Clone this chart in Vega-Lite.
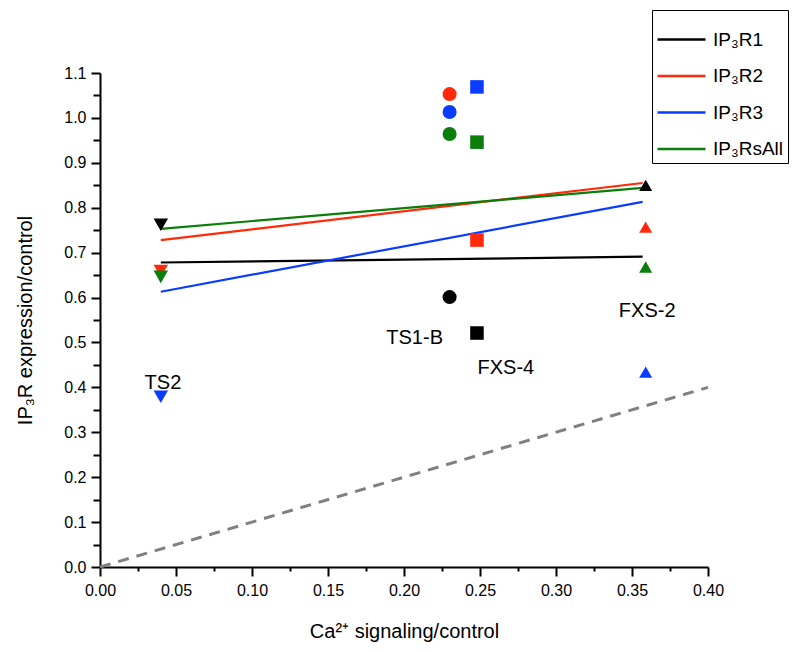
{
  "$schema": "https://vega.github.io/schema/vega-lite/v6.json",
  "autosize": "none",
  "width": 608,
  "height": 494,
  "padding": {"left": 100, "top": 73, "right": 93, "bottom": 85},
  "background": "white",
  "config": {
    "view": {"stroke": null},
    "font": "Liberation Sans",
    "axis": {"grid": false, "domainColor": "black", "tickColor": "black", "domainWidth": 2, "tickWidth": 2, "labelColor": "black", "titleColor": "black", "labelFont": "Liberation Sans", "titleFont": "Liberation Sans", "labelFontSize": 16, "titleFontSize": 20, "titleFontWeight": "normal", "labelFlush": false}
  },
  "datasets": {
    "lines": [
      {"series": "IP₃R1", "x": 0.04, "y": 0.678},
      {"series": "IP₃R1", "x": 0.357, "y": 0.691},
      {"series": "IP₃R2", "x": 0.04, "y": 0.728},
      {"series": "IP₃R2", "x": 0.357, "y": 0.855},
      {"series": "IP₃R3", "x": 0.04, "y": 0.613},
      {"series": "IP₃R3", "x": 0.357, "y": 0.813},
      {"series": "IP₃RsAll", "x": 0.04, "y": 0.753},
      {"series": "IP₃RsAll", "x": 0.357, "y": 0.844}
    ],
    "points": [
      {"series": "IP₃R1", "cell": "TS2", "x": 0.04, "y": 0.762},
      {"series": "IP₃R2", "cell": "TS2", "x": 0.04, "y": 0.659},
      {"series": "IP₃R3", "cell": "TS2", "x": 0.04, "y": 0.379},
      {"series": "IP₃RsAll", "cell": "TS2", "x": 0.04, "y": 0.646},
      {"series": "IP₃R1", "cell": "TS1-B", "x": 0.23, "y": 0.601},
      {"series": "IP₃R2", "cell": "TS1-B", "x": 0.23, "y": 1.053},
      {"series": "IP₃R3", "cell": "TS1-B", "x": 0.23, "y": 1.013},
      {"series": "IP₃RsAll", "cell": "TS1-B", "x": 0.23, "y": 0.964},
      {"series": "IP₃R1", "cell": "FXS-4", "x": 0.248, "y": 0.521},
      {"series": "IP₃R2", "cell": "FXS-4", "x": 0.248, "y": 0.728},
      {"series": "IP₃R3", "cell": "FXS-4", "x": 0.248, "y": 1.069},
      {"series": "IP₃RsAll", "cell": "FXS-4", "x": 0.248, "y": 0.946},
      {"series": "IP₃R1", "cell": "FXS-2", "x": 0.359, "y": 0.85},
      {"series": "IP₃R2", "cell": "FXS-2", "x": 0.359, "y": 0.757},
      {"series": "IP₃R3", "cell": "FXS-2", "x": 0.359, "y": 0.434},
      {"series": "IP₃RsAll", "cell": "FXS-2", "x": 0.359, "y": 0.668}
    ],
    "labels": [
      {"label": "TS2", "x": 0.0414, "y": 0.41},
      {"label": "TS1-B", "x": 0.207, "y": 0.51},
      {"label": "FXS-4", "x": 0.267, "y": 0.443},
      {"label": "FXS-2", "x": 0.36, "y": 0.57}
    ],
    "diag": [
      {"x": 0, "y": 0},
      {"x": 0.4, "y": 0.4}
    ]
  },
  "resolve": {"axis": {"x": "independent", "y": "independent"}},
  "layer": [
    {
      "data": {"name": "diag"},
      "mark": {"type": "line", "color": "#808080", "strokeWidth": 3, "strokeDash": [11, 8]},
      "encoding": {
        "x": {"field": "x", "type": "quantitative", "scale": {"domain": [0, 0.4], "nice": false},
          "axis": {"orient": "bottom", "values": [0.025, 0.075, 0.125, 0.175, 0.225, 0.275, 0.325, 0.375], "labels": false, "domain": false, "tickSize": 4, "title": null}},
        "y": {"field": "y", "type": "quantitative", "scale": {"domain": [0, 1.1], "nice": false},
          "axis": {"orient": "left", "values": [0.05, 0.15, 0.25, 0.35, 0.45, 0.55, 0.65, 0.75, 0.85, 0.95, 1.05], "labels": false, "domain": false, "tickSize": 7, "title": null}}
      }
    },
    {
      "data": {"name": "lines"},
      "mark": {"type": "line", "strokeWidth": 2.2},
      "encoding": {
        "x": {"field": "x", "type": "quantitative",
          "axis": {"orient": "bottom", "values": [0, 0.05, 0.1, 0.15, 0.2, 0.25, 0.3, 0.35, 0.4], "format": ".2f", "tickSize": 9, "labelPadding": 6, "title": "Ca²⁺ signaling/control", "titlePadding": 23}},
        "y": {"field": "y", "type": "quantitative",
          "axis": {"orient": "left", "values": [0, 0.1, 0.2, 0.3, 0.4, 0.5, 0.6, 0.7, 0.8, 0.9, 1.0, 1.1], "format": ".1f", "tickSize": 9, "labelPadding": 5, "title": "IP₃R expression/control", "titlePadding": 28}},
        "color": {"field": "series", "type": "nominal",
          "scale": {"domain": ["IP₃R1", "IP₃R2", "IP₃R3", "IP₃RsAll"], "range": ["#000000", "#ff2a0a", "#0a3cff", "#0a7d0a"]},
          "legend": {"title": null, "orient": "none", "legendX": 552, "legendY": -63, "symbolType": "stroke", "symbolSize": 2304, "symbolStrokeWidth": 2.5, "labelFontSize": 19, "labelFont": "Liberation Sans", "labelColor": "black", "strokeColor": "black", "padding": 4, "rowPadding": 0.5, "labelOffset": 6}}
      }
    },
    {
      "data": {"name": "points"},
      "mark": {"type": "point", "filled": true, "opacity": 1},
      "encoding": {
        "x": {"field": "x", "type": "quantitative", "axis": null},
        "y": {"field": "y", "type": "quantitative", "axis": null},
        "color": {"field": "series", "type": "nominal", "legend": null},
        "shape": {"field": "cell", "type": "nominal", "scale": {"domain": ["TS2", "TS1-B", "FXS-4", "FXS-2"], "range": ["triangle-down", "circle", "square", "triangle-up"]}, "legend": null},
        "size": {"field": "cell", "type": "nominal", "scale": {"domain": ["TS2", "TS1-B", "FXS-4", "FXS-2"], "range": [210, 170, 100, 210]}, "legend": null}
      }
    },
    {
      "data": {"name": "labels"},
      "mark": {"type": "text", "fontSize": 20, "font": "Liberation Sans", "color": "black"},
      "encoding": {
        "x": {"field": "x", "type": "quantitative", "axis": null},
        "y": {"field": "y", "type": "quantitative", "axis": null},
        "text": {"field": "label"}
      }
    }
  ]
}
